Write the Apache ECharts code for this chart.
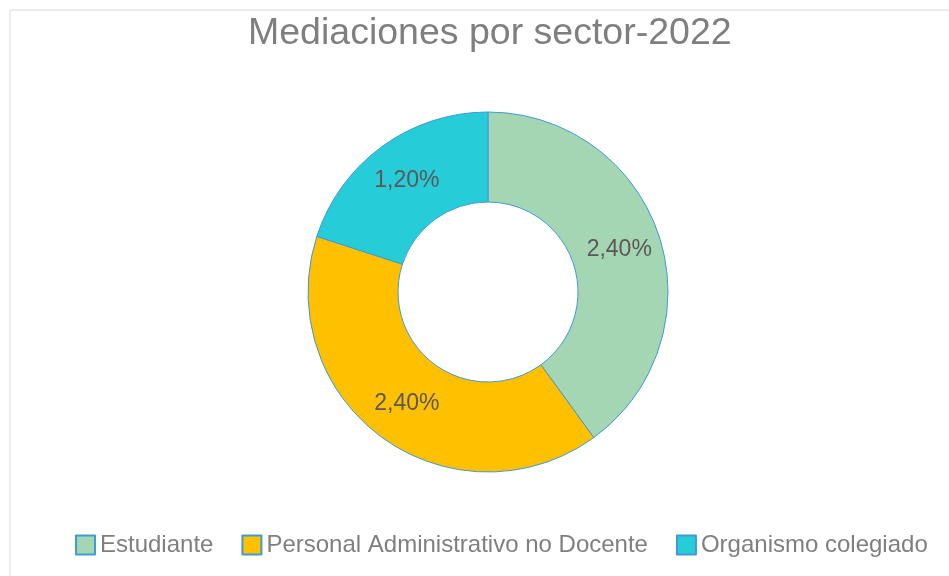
<!DOCTYPE html>
<html>
<head>
<meta charset="utf-8">
<script src="https://cdn.jsdelivr.net/npm/echarts@6/dist/echarts.min.js"></script>
<style>
  html, body { margin: 0; padding: 0; background: #fff; }
  #chart { width: 949px; height: 576px; }
</style>
</head>
<body>
<div id="chart"></div>
<script>
// datos del gráfico
var categories = ['Estudiante', 'Personal Administrativo no Docente', 'Organismo colegiado'];
var values = [2.4, 2.4, 1.2];
var colors = ['#A5D6B4', '#FFC000', '#26CCD8'];

var myChart = echarts.init(document.getElementById('chart'));

var option = {
  backgroundColor: '#ffffff',
  textStyle: { fontFamily: 'Liberation Sans, Arial, sans-serif' },
  graphic: [{
    type: 'rect',
    shape: { x: 10, y: 10, width: 960, height: 600 },
    style: { fill: 'none', stroke: '#d9d9d9', lineWidth: 1 },
    silent: true
  }],
  title: {
    text: 'Mediaciones por sector-2022',
    left: 243,
    top: 10,
    textStyle: { color: '#7f7f7f', fontSize: 37.5, fontWeight: 'normal' }
  },
  legend: {
    data: categories,
    bottom: 14,
    left: 70,
    itemWidth: 19,
    itemHeight: 19,
    itemGap: 28,
    icon: 'rect',
    textStyle: { color: '#7f7f7f', fontSize: 24 }
  },
  series: [{
    type: 'pie',
    center: [488, 292],
    radius: [90, 180],
    startAngle: 90,
    clockwise: true,
    avoidLabelOverlap: false,
    itemStyle: { borderColor: '#3E9BD6', borderWidth: 1 },
    label: {
      show: true,
      position: 'inside',
      color: '#595959',
      fontSize: 23,
      formatter: function (p) {
        return p.value.toFixed(2).replace('.', ',') + '%';
      }
    },
    labelLine: { show: false },
    emphasis: { scale: false },
    data: categories.map(function (c, i) {
      return { name: c, value: values[i], itemStyle: { color: colors[i] } };
    })
  }]
};

myChart.setOption(option);
</script>
</body>
</html>
